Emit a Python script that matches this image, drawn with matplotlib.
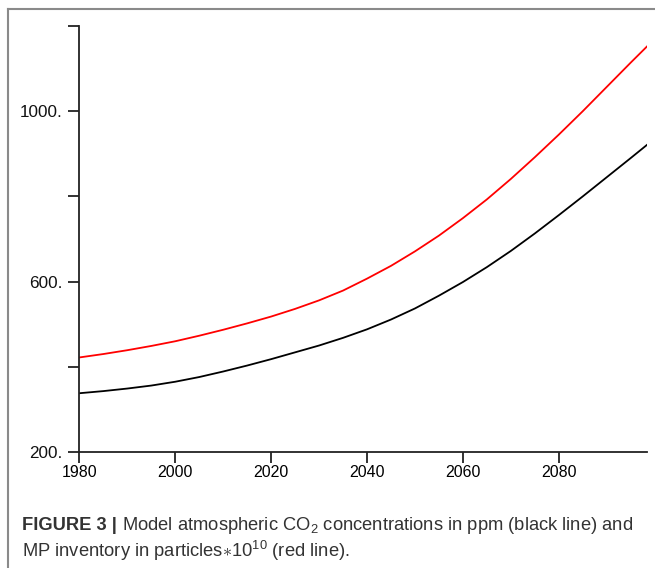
import matplotlib
matplotlib.use("Agg")
from matplotlib import pyplot as plt
from matplotlib.lines import Line2D

plt.rcParams['font.family'] = ['Liberation Sans', 'DejaVu Sans']
plt.rcParams['mathtext.fontset'] = 'custom'
plt.rcParams['mathtext.rm'] = 'Liberation Sans'
plt.rcParams['mathtext.it'] = 'Liberation Sans'

years = [1980, 1985, 1990, 1995, 2000, 2005, 2010, 2015, 2020, 2025, 2030, 2035,
         2040, 2045, 2050, 2055, 2060, 2065, 2070, 2075, 2080, 2085, 2090, 2095, 2098.4]
co2_ppm = [338, 343, 349, 356, 365, 376, 389, 403, 418, 434, 450, 468,
           488, 511, 537, 567, 599, 634, 672, 713, 756, 800, 845, 890, 921]
mp_inventory = [422, 430, 439, 449, 460, 473, 487, 502, 518, 536, 556, 579,
                607, 637, 671, 708, 749, 793, 841, 892, 945, 1000, 1057, 1114, 1152]

xticks = [1980, 2000, 2020, 2040, 2060, 2080]
yticks = [200, 400, 600, 800, 1000, 1200]
ylabels = ['200.', '', '600.', '', '1000.', '']

fig = plt.figure(figsize=(6.55, 5.68), dpi=100)
ax = fig.add_axes([0.1212, 0.2042, 0.8673, 0.75])

ax.plot(years, co2_ppm, color='black', lw=1.3)
ax.plot(years, mp_inventory, color='#ff0000', lw=1.3)

ax.set_xlim(1980, 2098.5)
ax.set_ylim(200, 1200)
ax.set_xticks(xticks)
ax.set_xticklabels([str(x) for x in xticks], fontsize=11.5, color='#000000')
ax.set_yticks(yticks)
ax.set_yticklabels(ylabels, fontsize=12.3, color='#111111')
for s in ['top', 'right']:
    ax.spines[s].set_visible(False)
for s in ['left', 'bottom']:
    ax.spines[s].set_linewidth(1.3)
    ax.spines[s].set_color('#222222')
ax.tick_params(direction='out', length=8, width=1.3, color='#222222')
ax.tick_params(axis='y', pad=4)
ax.tick_params(axis='x', pad=1)

# frame around figure (only left and top edges visible)
fig.add_artist(Line2D([8 / 655, 8 / 655], [0, 1 - 9 / 568], color='#8a8a8a', lw=1.5))
fig.add_artist(Line2D([8 / 655, 1], [1 - 9 / 568, 1 - 9 / 568], color='#8a8a8a', lw=1.5))

# caption
cap_color = '#333333'
t1 = fig.text(22 / 655, 1 - 525 / 568, 'FIGURE 3 |', fontsize=13.2, fontweight='bold',
              color=cap_color, va='center', ha='left')
fig.canvas.draw()
bb = t1.get_window_extent()
x2 = (bb.x1 + 5) / fig.bbox.width
fig.text(x2, 1 - 525 / 568, 'Model atmospheric CO$_2$ concentrations in ppm (black line) and',
         fontsize=13.2, color=cap_color, va='center', ha='left')
fig.text(22 / 655, 1 - 551 / 568, r'MP inventory in particles$\ast$10$^{10}$ (red line).',
         fontsize=13.2, color=cap_color, va='center', ha='left')

plt.savefig('out.png', dpi=100)
